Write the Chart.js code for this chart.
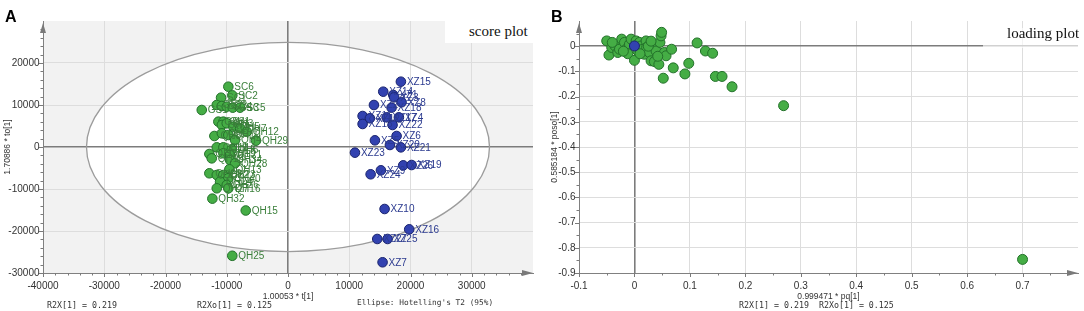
<!DOCTYPE html>
<html><head><meta charset="utf-8">
<script src="https://cdn.jsdelivr.net/npm/chart.js@4.4.1/dist/chart.umd.min.js"></script>
<style>
html,body{margin:0;padding:0;background:#fff}
body{width:1084px;height:311px;position:relative;overflow:hidden}
canvas{position:absolute;top:0}
#ca{left:0}
#cb{left:540px}
.t{position:absolute;white-space:nowrap;line-height:1;color:#222}
.pl{font:bold 16px 'Liberation Sans',Arial,sans-serif;color:#000}
.mono{font-family:'DejaVu Sans Mono','Liberation Mono',monospace;font-size:8.3px;color:#333}
.box{position:absolute;background:#fff}
.serif{font-family:'Liberation Serif','Times New Roman',serif;font-size:15px;color:#111}
</style></head><body>
<canvas id="ca" width="540" height="311"></canvas>
<canvas id="cb" width="544" height="311"></canvas>
<div class="t pl" style="left:5px;top:7.5px">A</div>
<div class="t pl" style="left:551px;top:7.5px">B</div>
<div class="box" style="left:445px;top:0;width:90px;height:43px"></div>
<div class="t serif" style="left:469px;top:24.4px">score plot</div>
<div class="box" style="left:983px;top:28px;width:101px;height:20px;background:rgba(255,255,255,0.65)"></div>
<div class="t serif" style="left:1007px;top:26.4px">loading plot</div>
<div class="t mono" style="left:47px;top:300.5px">R2X[1] = 0.219</div>
<div class="t mono" style="left:197px;top:300.5px">R2Xo[1] = 0.125</div>
<div class="t mono" style="left:357px;top:299px;font-size:7.8px">Ellipse: Hotelling's T2 (95%)</div>
<div class="t mono" style="left:739px;top:300.5px">R2X[1] = 0.219&nbsp;&nbsp;R2Xo[1] = 0.125</div>
<script>
// ---------- Panel A: score plot ----------
const greenNames = ['SC6','SC2','SC1','GS1','GS2','SC3','SC4','GS3','SC5','GS8','QH1','QH2','QH3','QH5','QH7','QH12','QH8','QH9','QH10','QH4','QH29','QH11','QH14','QH6','QH17','QH18','QH19','QH21','QH34','QH28','QH13','QH20','QH22','QH23','QH40','QH24','QH26','QH27','QH16','QH32','QH15','QH25'];
const greenT = [-9740,-9090,-10930,-14080,-11630,-10810,-10000,-9020,-7830,-11370,-10550,-10800,-10000,-8920,-7830,-6740,-12020,-10800,-9740,-8640,-5220,-11630,-10550,-9180,-12840,-12450,-10550,-9460,-9460,-8640,-9570,-12840,-11630,-10550,-9740,-11090,-10000,-11630,-9740,-12350,-6900,-9100];
const greenTo = [14360,12300,11740,8810,10000,9760,9600,9370,9370,6030,6030,5240,5640,4840,4450,3650,2620,3260,2860,1670,1510,-80,-80,-560,-1670,-2700,-1500,-1900,-3100,-3880,-5310,-6260,-6670,-6670,-7450,-8260,-9050,-9830,-9830,-12300,-15120,-25900];

const blueNames = ['XZ15','XZ14','XZ1','XZ3','XZ8','XZ2','XZ18','XZ11','XZ12','XZ17','XZ4','XZ13','XZ22','XZ6','XZ5','XZ20','XZ21','XZ23','XZ26','XZ19','XZ9','XZ24','XZ10','XZ16','XZ27','XZ25','XZ7'];
const blueT = [18430,15550,17180,17340,18540,14030,16910,12180,13370,16100,18100,12180,17070,17730,14190,16640,18430,10930,18810,20180,15170,13490,15770,19790,14570,16260,15440];
const blueTo = [15550,13170,12380,11830,10640,10000,9370,7380,6830,7060,7060,5480,5240,2620,1590,480,-80,-1350,-4370,-4290,-5550,-6500,-14760,-19600,-21900,-21900,-27450];

const ellipseRadii = [32900, 24900]; // Hotelling's T2 95% (t, to)
const xTicksA = [-40000,-30000,-20000,-10000,0,10000,20000,30000];
const yTicksA = [-30000,-20000,-10000,0,10000,20000];

// ---------- Panel B: loading plot ----------
const loadPq = [-0.050,-0.046,-0.041,-0.035,-0.030,-0.027,-0.023,-0.018,-0.015,-0.009,-0.006,-0.012,-0.040,-0.020,0.000,0.003,0.006,0.009,0.012,0.015,0.018,0.021,0.022,0.027,0.030,0.033,0.036,0.039,0.044,0.046,0.048,0.049,0.054,0.057,0.067,0.025,0.030,0.042,0.010,0.052,0.070,0.091,0.098,0.113,0.128,0.141,0.146,0.158,0.176,0.269,0.700];
const loadPoso = [0.021,-0.035,-0.005,0.001,-0.025,-0.012,0.028,0.015,-0.012,0.008,0.028,-0.030,0.015,-0.020,-0.056,0.021,-0.019,0.015,0.001,-0.012,-0.032,0.021,-0.005,-0.025,-0.058,0.008,-0.061,-0.019,-0.072,0.015,0.041,0.055,-0.025,-0.038,-0.012,0.000,0.020,-0.040,-0.030,-0.127,-0.086,-0.110,-0.068,0.013,-0.019,-0.028,-0.120,-0.120,-0.161,-0.236,-0.846];
const loadBluePq = [0.000];
const loadBluePoso = [0.001];
const xTicksB = [-0.1,0,0.1,0.2,0.3,0.4,0.5,0.6,0.7];
const yTicksB = [-0.9,-0.8,-0.7,-0.6,-0.5,-0.4,-0.3,-0.2,-0.1,0];

const TICKFONT = "'Liberation Sans Narrow','Liberation Sans',Arial,sans-serif";
const TITLEFONT = "'Liberation Sans',Arial,sans-serif";
const GREEN = '#45ad45', GREEN_B = '#23712a', BLUE = '#3242b0', BLUE_B = '#1a246e';

const pts = (xs, ys) => xs.map((v, i) => ({x: v, y: ys[i]}));

const bgPlugin = {
  id: 'bgEllipse',
  beforeDraw(chart, args, opts) {
    if (!opts.ellipse) return;
    const {ctx, chartArea: a, scales: {x, y}} = chart;
    const cx = x.getPixelForValue(0), cy = y.getPixelForValue(0);
    const rx = x.getPixelForValue(opts.ellipse[0]) - cx;
    const ry = cy - y.getPixelForValue(opts.ellipse[1]);
    ctx.save();
    ctx.fillStyle = '#f2f2f2';
    ctx.fillRect(a.left, a.top, a.right - a.left, a.bottom - a.top);
    ctx.beginPath(); ctx.ellipse(cx, cy, rx, ry, 0, 0, Math.PI * 2);
    ctx.fillStyle = '#ffffff'; ctx.fill();
    ctx.restore();
  },
  beforeDatasetsDraw(chart, args, opts) {
    if (!opts.ellipse) return;
    const {ctx, scales: {x, y}} = chart;
    const cx = x.getPixelForValue(0), cy = y.getPixelForValue(0);
    const rx = x.getPixelForValue(opts.ellipse[0]) - cx;
    const ry = cy - y.getPixelForValue(opts.ellipse[1]);
    ctx.save();
    ctx.beginPath(); ctx.ellipse(cx, cy, rx, ry, 0, 0, Math.PI * 2);
    ctx.strokeStyle = '#9c9c9c'; ctx.lineWidth = 1.3; ctx.stroke();
    ctx.restore();
  }
};

const decoPlugin = {
  id: 'deco',
  afterDraw(chart, args, o) {
    const {ctx, chartArea: a, scales: {x, y}} = chart;
    ctx.save();
    ctx.strokeStyle = '#7a7a7a'; ctx.fillStyle = '#7a7a7a'; ctx.lineWidth = 1;
    const nx = Math.round((x.max - x.min) / o.minorX);
    for (let i = 0; i < nx; i++) {
      const px = Math.round(x.getPixelForValue(x.min + i * o.minorX)) + 0.5;
      const len = (i % o.perMajorX === 0) ? 4 : 2.5;
      ctx.beginPath(); ctx.moveTo(px, a.bottom); ctx.lineTo(px, a.bottom + len); ctx.stroke();
    }
    const ny = Math.round((y.max - y.min) / o.minorY);
    for (let i = 0; i < ny; i++) {
      const py = Math.round(y.getPixelForValue(y.min + i * o.minorY)) + 0.5;
      const len = (i % o.perMajorY === 0) ? 4 : 2.5;
      ctx.beginPath(); ctx.moveTo(a.left, py); ctx.lineTo(a.left - len, py); ctx.stroke();
    }
    // arrows
    ctx.beginPath(); ctx.moveTo(a.right, a.bottom); ctx.lineTo(a.right - 11, a.bottom - 3); ctx.lineTo(a.right - 11, a.bottom + 3); ctx.closePath(); ctx.fill();
    ctx.beginPath(); ctx.moveTo(a.left, a.top + 2); ctx.lineTo(a.left - 3, a.top + 12); ctx.lineTo(a.left + 3, a.top + 12); ctx.closePath(); ctx.fill();
    ctx.restore();
  }
};

const labelPlugin = {
  id: 'pointLabels',
  afterDatasetsDraw(chart) {
    const {ctx} = chart;
    ctx.save();
    ctx.font = "10px " + TICKFONT;
    ctx.textBaseline = 'middle'; ctx.textAlign = 'left';
    chart.data.datasets.forEach((ds, di) => {
      if (!ds.names) return;
      ctx.fillStyle = ds.labelColor;
      chart.getDatasetMeta(di).data.forEach((el, i) => {
        ctx.fillText(ds.names[i], el.x + 6, el.y + 0.5);
      });
    });
    ctx.restore();
  }
};

function gridOpts() {
  return {
    drawTicks: false,
    color: c => (c.tick && c.tick.value === 0) ? '#7c7c7c' : '#dddddd',
    lineWidth: c => (c.tick && c.tick.value === 0) ? 1.6 : 1
  };
}

function scaleX(min, max, ticksArr, fmt, title) {
  return {
    type: 'linear', min, max,
    afterBuildTicks: s => { s.ticks = ticksArr.map(v => ({value: v})); },
    afterFit: s => { s.height = 38; },
    grid: gridOpts(),
    border: {display: true, color: '#808080', width: 1},
    ticks: {padding: 7, color: '#333', font: {family: TICKFONT, size: 10}, callback: fmt, maxRotation: 0, autoSkip: false},
    title: {display: true, text: title, color: '#333', font: {family: TITLEFONT, size: 8.5, lineHeight: 1}, padding: {top: 0, bottom: 10.5}}
  };
}
function scaleY(min, max, ticksArr, fmt, title, width, tpad) {
  return {
    type: 'linear', min, max,
    afterBuildTicks: s => { s.ticks = ticksArr.map(v => ({value: v})); },
    afterFit: s => { s.width = width; },
    grid: gridOpts(),
    border: {display: true, color: '#808080', width: 1},
    ticks: {padding: 3.5, color: '#333', font: {family: TICKFONT, size: 10}, callback: fmt, autoSkip: false},
    title: {display: true, text: title, color: '#333', font: {family: TITLEFONT, size: 8.5, lineHeight: 1}, padding: {top: tpad, bottom: 0}}
  };
}

const fmtInt = v => String(v);
const fmtDec = v => String(Math.round(v * 10) / 10);

new Chart(document.getElementById('ca'), {
  type: 'scatter',
  data: {datasets: [
    {data: pts(greenT, greenTo), names: greenNames, labelColor: '#3a7f3a', backgroundColor: GREEN, borderColor: GREEN_B, borderWidth: 1, pointRadius: 4.8},
    {data: pts(blueT, blueTo), names: blueNames, labelColor: '#2b3a8f', backgroundColor: BLUE, borderColor: BLUE_B, borderWidth: 1, pointRadius: 4.8}
  ]},
  options: {
    responsive: false, animation: false, devicePixelRatio: 1,
    layout: {padding: {left: 0, top: 21, right: 7, bottom: 0}},
    plugins: {legend: {display: false}, tooltip: {enabled: false},
      bgEllipse: {ellipse: ellipseRadii},
      deco: {minorX: 2000, perMajorX: 5, minorY: 2000, perMajorY: 5}},
    scales: {
      x: scaleX(-40000, 40000, xTicksA, fmtInt, '1.00053 * t[1]'),
      y: scaleY(-30000, 30000, yTicksA, fmtInt, '1.70886 * to[1]', 43, 3.5)
    }
  },
  plugins: [bgPlugin, decoPlugin, labelPlugin]
});

new Chart(document.getElementById('cb'), {
  type: 'scatter',
  data: {datasets: [
    {data: pts(loadBluePq, loadBluePoso), backgroundColor: BLUE, borderColor: BLUE_B, borderWidth: 1, pointRadius: 5},
    {data: pts(loadPq, loadPoso), backgroundColor: GREEN, borderColor: GREEN_B, borderWidth: 1, pointRadius: 5}
  ]},
  options: {
    responsive: false, animation: false, devicePixelRatio: 1,
    layout: {padding: {left: 0, top: 21, right: 3, bottom: 0}},
    plugins: {legend: {display: false}, tooltip: {enabled: false},
      bgEllipse: {ellipse: null},
      deco: {minorX: 0.05, perMajorX: 2, minorY: 0.05, perMajorY: 2}},
    scales: {
      x: scaleX(-0.1, 0.8, xTicksB, fmtDec, '0.999471 * pq[1]'),
      y: scaleY(-0.9, 0.1, yTicksB, fmtDec, '0.585184 * poso[1]', 39, 10.5)
    }
  },
  plugins: [bgPlugin, decoPlugin]
});
</script>
</body></html>
